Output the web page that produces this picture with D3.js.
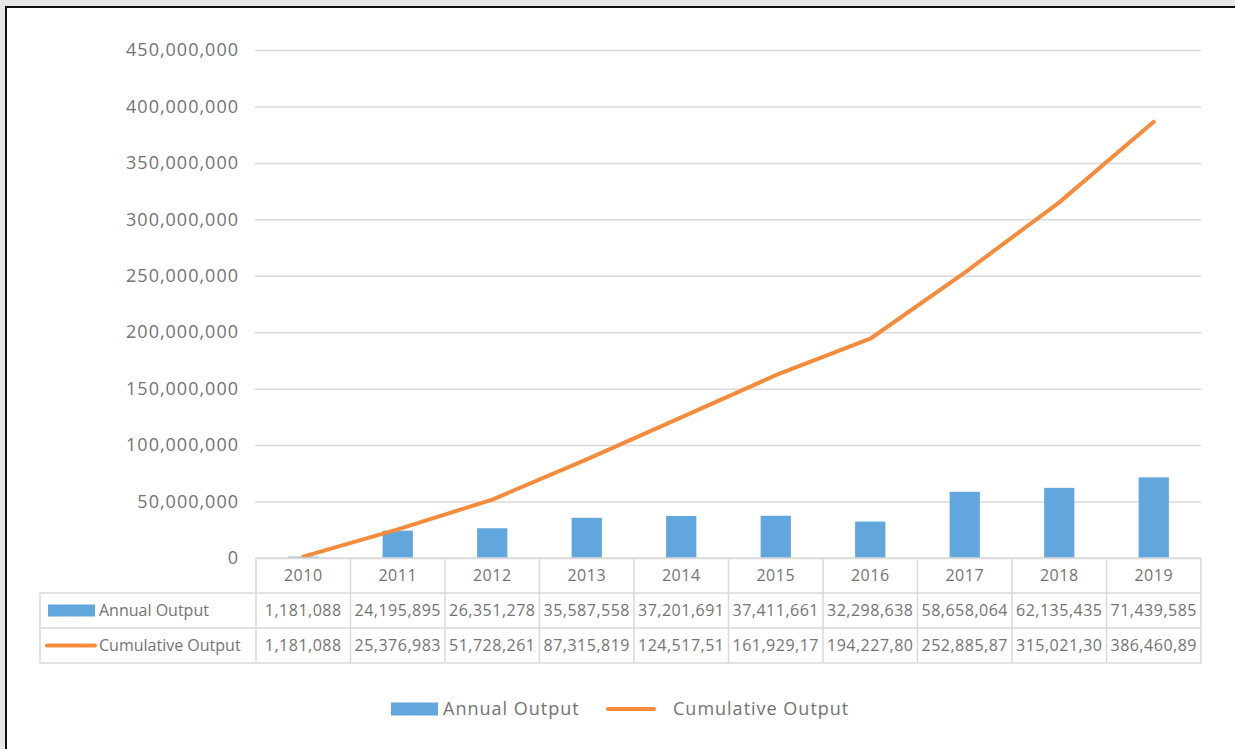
<!DOCTYPE html>
<html>
<head>
<meta charset="utf-8">
<script src="https://cdn.jsdelivr.net/npm/d3@7"></script>
<style>
  html, body { margin: 0; padding: 0; background: #e7e7e9; }
  svg { display: block; }
  text { font-family: "Open Sans", "Noto Sans", sans-serif; }
</style>
</head>
<body>
<svg id="chart" width="1235" height="749"></svg>
<script>
// Yearly production figures
const years = ["2010", "2011", "2012", "2013", "2014", "2015", "2016", "2017", "2018", "2019"];
const annualOutput = [1181088, 24195895, 26351278, 35587558, 37201691, 37411661, 32298638, 58658064, 62135435, 71439585];
const cumulativeOutput = [1181088, 25376983, 51728261, 87315819, 124517510, 161929171, 194227809, 252885873, 315021308, 386460893];
const yTicks = [0, 50000000, 100000000, 150000000, 200000000, 250000000, 300000000, 350000000, 400000000, 450000000];
const seriesNames = ["Annual Output", "Cumulative Output"];

const blue = "#61a6dc";
const orange = "#f68b3b";
const gridColor = "#d9d9d9";
const textColor = "#737373";

const svg = d3.select("#chart");

// Chart frame
svg.append("rect")
  .attr("x", 6).attr("y", 7).attr("width", 1300).attr("height", 800)
  .attr("fill", "#ffffff").attr("stroke", "#111111").attr("stroke-width", 2);

const plotLeft = 256, plotRight = 1201, plotTop = 50, plotBase = 558;

const x = d3.scaleBand().domain(years).range([plotLeft, plotRight]).padding(0);
const y = d3.scaleLinear().domain([0, 450000000]).range([plotBase, plotTop]);
const fmt = d3.format(",");

// Value axis with gridlines
const yAxis = svg.append("g")
  .attr("transform", `translate(${plotLeft},0)`)
  .call(d3.axisLeft(y).tickValues(yTicks).tickFormat(fmt)
    .tickSize(-(plotRight - plotLeft)).tickPadding(17));
yAxis.select(".domain").remove();
yAxis.selectAll(".tick line")
  .attr("stroke", gridColor).attr("stroke-width", 1.5)
  .attr("x1", -1);
yAxis.selectAll(".tick text")
  .attr("fill", textColor).attr("font-size", 18)
  .attr("letter-spacing", 1);

// Annual bars
const barW = x.bandwidth() * 0.32;
svg.append("g").selectAll("rect")
  .data(years)
  .join("rect")
  .attr("x", (d) => x(d) + (x.bandwidth() - barW) / 2)
  .attr("y", (d, i) => y(annualOutput[i]))
  .attr("width", barW)
  .attr("height", (d, i) => plotBase - y(annualOutput[i]))
  .attr("fill", blue);

// Cumulative line
const line = d3.line()
  .x((d, i) => x(years[i]) + x.bandwidth() / 2)
  .y((d) => y(d));
svg.append("path")
  .datum(cumulativeOutput)
  .attr("d", line)
  .attr("fill", "none")
  .attr("stroke", orange)
  .attr("stroke-width", 4)
  .attr("stroke-linejoin", "round")
  .attr("stroke-linecap", "round");

// Data table beneath the plot
const table = svg.append("g");
const rowTops = [plotBase, 593, 628, 663];
const labelLeft = 40;

// Cell text that drops trailing characters when it overflows the cell
function fitText(sel, maxW) {
  sel.each(function () {
    const t = d3.select(this);
    let s = t.text();
    while (this.getComputedTextLength() > maxW && s.length > 1) {
      s = s.slice(0, -1);
      t.text(s);
    }
  });
}

const gridLine = (x1, y1, x2, y2) => table.append("line")
  .attr("x1", x1).attr("y1", y1).attr("x2", x2).attr("y2", y2)
  .attr("stroke", gridColor).attr("stroke-width", 1.5);

// Horizontal rules
gridLine(plotLeft, rowTops[0], plotRight, rowTops[0]);
gridLine(labelLeft, rowTops[1], plotRight, rowTops[1]);
gridLine(labelLeft, rowTops[2], plotRight, rowTops[2]);
gridLine(labelLeft, rowTops[3], plotRight, rowTops[3]);
// Vertical rules
gridLine(labelLeft, rowTops[1], labelLeft, rowTops[3]);
years.forEach((yr) => gridLine(x(yr), rowTops[0], x(yr), rowTops[3]));
gridLine(plotRight, rowTops[0], plotRight, rowTops[3]);

// Category header
table.append("g").selectAll("text")
  .data(years)
  .join("text")
  .attr("x", (d) => x(d) + x.bandwidth() / 2)
  .attr("y", (rowTops[0] + rowTops[1]) / 2)
  .attr("dy", "0.35em")
  .attr("text-anchor", "middle")
  .attr("font-size", 16)
  .attr("letter-spacing", 0.5)
  .attr("fill", textColor)
  .text((d) => d);

// Value rows
[annualOutput, cumulativeOutput].forEach((vals, r) => {
  const cy = (rowTops[r + 1] + rowTops[r + 2]) / 2;
  table.append("g").selectAll("text")
    .data(vals)
    .join("text")
    .attr("x", (d, i) => x(years[i]) + x.bandwidth() / 2)
    .attr("y", cy)
    .attr("dy", "0.35em")
    .attr("text-anchor", "middle")
    .attr("font-size", 16)
    .attr("letter-spacing", 0.5)
    .attr("fill", textColor)
    .text((d) => fmt(d))
    .call(fitText, x.bandwidth() - 2);

  // Row legend key and name
  if (r === 0) {
    table.append("rect").attr("x", 48).attr("y", cy - 6).attr("width", 47).attr("height", 12).attr("fill", blue);
  } else {
    table.append("line").attr("x1", 47).attr("x2", 95).attr("y1", cy).attr("y2", cy)
      .attr("stroke", orange).attr("stroke-width", 4).attr("stroke-linecap", "round");
  }
  table.append("text")
    .attr("x", 99).attr("y", cy).attr("dy", "0.35em")
    .attr("font-size", 16).attr("fill", textColor)
    .text(seriesNames[r]);
});

// Legend
const lg = svg.append("g");
const ly = 709;
lg.append("rect").attr("x", 391).attr("y", ly - 6.5).attr("width", 47).attr("height", 13).attr("fill", blue);
lg.append("text").attr("x", 443).attr("y", ly).attr("dy", "0.35em")
  .attr("font-size", 18).attr("letter-spacing", 1).attr("fill", textColor).text(seriesNames[0]);
lg.append("line").attr("x1", 608).attr("x2", 654).attr("y1", ly).attr("y2", ly)
  .attr("stroke", orange).attr("stroke-width", 4).attr("stroke-linecap", "round");
lg.append("text").attr("x", 673).attr("y", ly).attr("dy", "0.35em")
  .attr("font-size", 18).attr("letter-spacing", 1).attr("fill", textColor).text(seriesNames[1]);
</script>
</body>
</html>
